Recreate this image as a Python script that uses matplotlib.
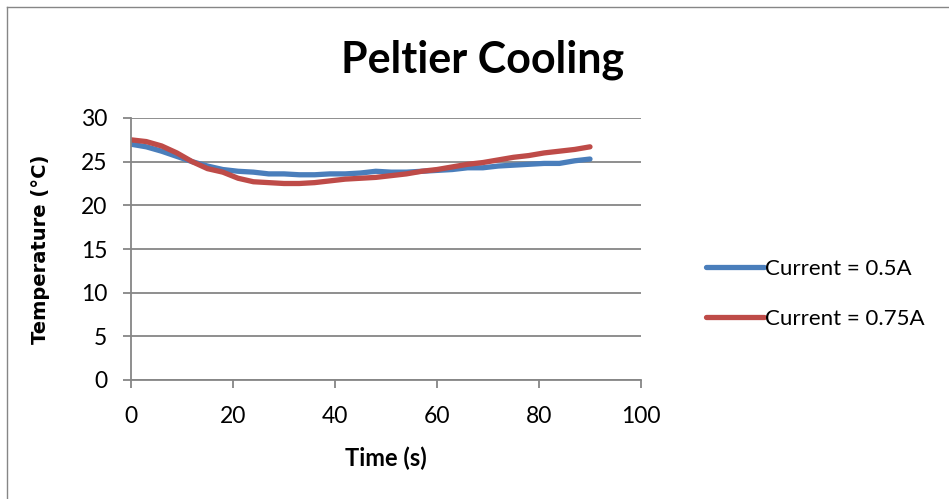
import matplotlib.pyplot as plt
from matplotlib.lines import Line2D

plt.rcParams['font.family'] = ['Lato', 'DejaVu Sans']

# time in seconds, sampled every 3 s
time_s = [0, 3, 6, 9, 12, 15, 18, 21, 24, 27, 30, 33, 36, 39, 42, 45,
          48, 51, 54, 57, 60, 63, 66, 69, 72, 75, 78, 81, 84, 87, 90]
temp_05a = [27.0, 26.7, 26.2, 25.6, 25.0, 24.5, 24.1, 23.9, 23.8, 23.6, 23.6,
            23.5, 23.5, 23.6, 23.6, 23.7, 23.9, 23.8, 23.8, 23.9, 24.0, 24.1,
            24.3, 24.3, 24.5, 24.6, 24.7, 24.8, 24.8, 25.1, 25.3]
temp_075a = [27.5, 27.3, 26.8, 26.0, 25.0, 24.2, 23.8, 23.1, 22.7, 22.6, 22.5,
             22.5, 22.6, 22.8, 23.0, 23.1, 23.2, 23.4, 23.6, 23.9, 24.1, 24.4,
             24.7, 24.9, 25.2, 25.5, 25.7, 26.0, 26.2, 26.4, 26.7]
labels = ['Current = 0.5A', 'Current = 0.75A']

blue = '#4A7EBB'
red = '#BE4B48'
grey = '#868686'

fig = plt.figure(figsize=(9.49, 4.99), dpi=100)

# chart frame
fig.add_artist(Line2D([7/949, 7/949], [0, 1 - 7/499], color=grey, lw=1))
fig.add_artist(Line2D([7/949, 1], [1 - 7/499, 1 - 7/499], color=grey, lw=1))

ax = fig.add_axes([131/949, 1 - 380/499, 510/949, 262/499])
ax.plot(time_s, temp_05a, color=blue, lw=3.8, solid_capstyle='round',
        solid_joinstyle='round', label=labels[0])
ax.plot(time_s, temp_075a, color=red, lw=3.8, solid_capstyle='round',
        solid_joinstyle='round', label=labels[1])

ax.set_xlim(0, 100)
ax.set_ylim(0, 30)
ax.set_xticks(range(0, 101, 20))
ax.set_yticks(range(0, 31, 5))
ax.grid(axis='y', color=grey, lw=1.3)
ax.set_axisbelow(True)
for side in ['top', 'right']:
    ax.spines[side].set_visible(False)
for side in ['left', 'bottom']:
    ax.spines[side].set_color(grey)
    ax.spines[side].set_linewidth(1.3)
ax.tick_params(axis='both', colors=grey, length=6, width=1.3, labelsize=16.5,
               labelcolor='black')
ax.tick_params(axis='x', pad=13)
ax.tick_params(axis='y', pad=11)

ax.set_xlabel('Time (s)', fontsize=17, fontweight='bold', labelpad=14)
ax.set_ylabel('Temperature (°C)', fontsize=14, fontweight='bold',
              family=['DejaVu Sans'], labelpad=22)
fig.text(483/949, 1 - 60/499, 'Peltier Cooling', fontsize=31,
         fontweight='bold', ha='center', va='center')

fig.legend(loc='center left', bbox_to_anchor=(686/949, 1 - 294/499),
           frameon=False, fontsize=16, handlelength=2.6, handletextpad=0.05,
           labelspacing=1.35)

fig.savefig('out.png', dpi=100)
